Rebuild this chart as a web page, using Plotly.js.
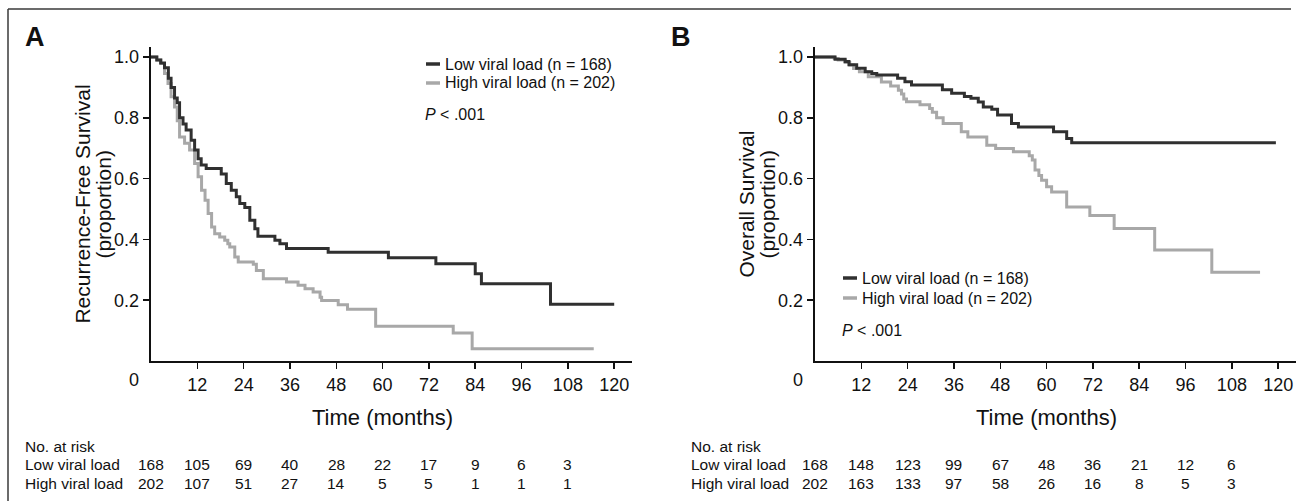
<!DOCTYPE html>
<html><head><meta charset="utf-8">
<script src="https://cdn.plot.ly/plotly-3.0.1.min.js"></script>
<style>html,body{margin:0;padding:0;background:#fff}#chart{width:1300px;height:501px}</style>
</head><body><div id="chart"></div>
<script>
// ---------- data ----------
const riskTimes = [0, 12, 24, 36, 48, 60, 72, 84, 96, 108];
const xTickVals = [12, 24, 36, 48, 60, 72, 84, 96, 108, 120];
const yTickVals = [0.2, 0.4, 0.6, 0.8, 1.0];
const yTickText = ['0.2', '0.4', '0.6', '0.8', '1.0'];
const groupLabels = ['Low viral load', 'High viral load'];
const legendLabels = ['Low viral load (n = 168)', 'High viral load (n = 202)'];

// Panel A: recurrence-free survival
const rfsLowTime = [0, 1.5, 2.5, 3.5, 4.5, 5.2, 6.1, 6.8, 7.4, 8.3, 9.1, 10.4, 11.3, 12.2, 13.0, 14.3, 18.2, 19.5, 20.8, 22.1, 23.0, 24.3, 25.6, 26.9, 27.7, 32.1, 33.4, 35.1, 45.9, 61.5, 73.8, 84.0, 85.6, 103.5, 120.0];
const rfsLowSurv = [1.0, 0.99, 0.98, 0.965, 0.93, 0.90, 0.865, 0.85, 0.80, 0.78, 0.76, 0.726, 0.694, 0.665, 0.645, 0.633, 0.615, 0.584, 0.562, 0.540, 0.518, 0.505, 0.463, 0.435, 0.41, 0.397, 0.386, 0.37, 0.358, 0.340, 0.320, 0.287, 0.254, 0.187, 0.187];
const rfsHighTime = [0, 1.5, 2.6, 3.5, 4.4, 5.2, 6.1, 6.8, 7.4, 8.7, 10.0, 11.3, 12.2, 13.1, 14.0, 14.8, 15.7, 16.5, 17.8, 19.1, 19.9, 20.4, 21.7, 22.6, 26.5, 27.3, 29.1, 35.1, 38.1, 39.9, 42.0, 43.8, 44.2, 48.5, 50.9, 58.2, 78.3, 83.2, 114.7];
const rfsHighSurv = [1.0, 0.99, 0.979, 0.946, 0.913, 0.869, 0.836, 0.79, 0.737, 0.716, 0.694, 0.650, 0.606, 0.562, 0.529, 0.485, 0.441, 0.419, 0.408, 0.397, 0.386, 0.375, 0.342, 0.326, 0.318, 0.298, 0.271, 0.260, 0.249, 0.238, 0.227, 0.210, 0.199, 0.185, 0.170, 0.114, 0.092, 0.040, 0.040];
const rfsRiskLow = [168, 105, 69, 40, 28, 22, 17, 9, 6, 3];
const rfsRiskHigh = [202, 107, 51, 27, 14, 5, 5, 1, 1, 1];

// Panel B: overall survival
const osLowTime = [0, 5.2, 7.8, 8.8, 10.8, 13.0, 14.7, 16.0, 21.4, 23.3, 25.0, 33.0, 35.4, 38.7, 40.4, 42.3, 43.6, 45.8, 47.3, 50.9, 52.7, 61.8, 65.2, 66.5, 119.4];
const osLowSurv = [1.0, 0.993, 0.985, 0.975, 0.963, 0.952, 0.946, 0.941, 0.930, 0.919, 0.908, 0.892, 0.881, 0.870, 0.864, 0.852, 0.836, 0.828, 0.809, 0.781, 0.770, 0.754, 0.732, 0.718, 0.718];
const osHighTime = [0, 5.0, 6.0, 7.8, 9.0, 10.0, 11.5, 13.8, 17.2, 19.6, 21.6, 22.4, 23.0, 23.7, 27.2, 29.7, 30.4, 31.5, 33.2, 37.9, 39.6, 44.5, 46.8, 51.4, 55.5, 56.3, 57.0, 58.0, 58.7, 60.0, 61.3, 65.2, 71.2, 77.5, 88.0, 102.8, 115.3];
const osHighSurv = [1.0, 0.995, 0.99, 0.982, 0.974, 0.962, 0.952, 0.935, 0.918, 0.905, 0.891, 0.878, 0.862, 0.853, 0.843, 0.831, 0.818, 0.800, 0.781, 0.754, 0.737, 0.710, 0.699, 0.688, 0.675, 0.661, 0.628, 0.610, 0.595, 0.573, 0.556, 0.507, 0.479, 0.436, 0.365, 0.292, 0.292];
const osRiskLow = [168, 148, 123, 99, 67, 48, 36, 21, 12, 6];
const osRiskHigh = [202, 163, 133, 97, 58, 26, 16, 8, 5, 3];

// ---------- style / layout ----------
const W = 1300, H = 501;
const FONT = 'Liberation Sans, Arial, Helvetica, sans-serif';
const LOW_COLOR = '#303030', HIGH_COLOR = '#a8a8a8';
const px = x => x / W, py = y => 1 - y / H;
const PX_PER_MONTH = 3.86;
const X_RANGE = [-0.1, 124.5];

const yDom = [py(361), py(46.7)];
const panels = [
  {xa: 'x', ya: 'y', x0: 151, letter: 'A', letterX: 35,
   title: ['Recurrence-Free Survival', '(proportion)'],
   lowT: rfsLowTime, lowS: rfsLowSurv, highT: rfsHighTime, highS: rfsHighSurv,
   riskLow: rfsRiskLow, riskHigh: rfsRiskHigh, tableX: 23,
   legX: 426, legY: [64, 83], pY: 114},
  {xa: 'x2', ya: 'y2', x0: 815, letter: 'B', letterX: 681,
   title: ['Overall Survival', '(proportion)'],
   lowT: osLowTime, lowS: osLowSurv, highT: osHighTime, highS: osHighSurv,
   riskLow: osRiskLow, riskHigh: osRiskHigh, tableX: 689,
   legX: 843, legY: [278, 298], pY: 330}
];

const traces = [];
const annotations = [];
const shapes = [];
const layout = {
  width: W, height: H, margin: {l: 0, r: 0, t: 0, b: 0},
  paper_bgcolor: '#fff', plot_bgcolor: '#fff', showlegend: false,
  font: {family: FONT, color: '#111'}
};

panels.forEach((p, i) => {
  const sfx = i === 0 ? '' : '2';
  const left = p.x0 + X_RANGE[0] * PX_PER_MONTH;
  const right = p.x0 + X_RANGE[1] * PX_PER_MONTH;
  layout['xaxis' + sfx] = {
    domain: [px(left), px(right)], range: X_RANGE, anchor: p.ya,
    showline: true, linewidth: 2, linecolor: '#111', mirror: false,
    ticks: 'outside', ticklen: 6, tickwidth: 1.5, tickcolor: '#111',
    tickvals: xTickVals, ticktext: xTickVals.map(String),
    tickfont: {size: 18, family: FONT, color: '#111'},
    showgrid: false, zeroline: false, fixedrange: true
  };
  layout['yaxis' + sfx] = {
    domain: yDom, range: [0, 1.034], anchor: p.xa,
    showline: true, linewidth: 2, linecolor: '#111',
    ticks: 'outside', ticklen: 6, tickwidth: 1.5, tickcolor: '#111',
    tickvals: yTickVals, ticktext: yTickText,
    tickfont: {size: 18, family: FONT, color: '#111'},
    showgrid: false, zeroline: false, fixedrange: true
  };

  traces.push({x: p.highT, y: p.highS, xaxis: p.xa, yaxis: p.ya, mode: 'lines',
    line: {shape: 'hv', color: HIGH_COLOR, width: 3}, name: legendLabels[1], hoverinfo: 'skip'});
  traces.push({x: p.lowT, y: p.lowS, xaxis: p.xa, yaxis: p.ya, mode: 'lines',
    line: {shape: 'hv', color: LOW_COLOR, width: 3}, name: legendLabels[0], hoverinfo: 'skip'});

  // panel letter
  annotations.push({xref: 'paper', yref: 'paper', x: px(p.letterX), y: py(37), text: '<b>' + p.letter + '</b>',
    showarrow: false, xanchor: 'center', yanchor: 'middle', font: {size: 27, family: FONT, color: '#111'}});
  // y title (two lines)
  annotations.push({xref: 'paper', yref: 'paper', x: px(left - 69), y: py(204), text: p.title[0], textangle: -90,
    showarrow: false, xanchor: 'center', yanchor: 'middle', font: {size: 21, family: FONT, color: '#111'}});
  annotations.push({xref: 'paper', yref: 'paper', x: px(left - 48), y: py(204), text: p.title[1], textangle: -90,
    showarrow: false, xanchor: 'center', yanchor: 'middle', font: {size: 21, family: FONT, color: '#111'}});
  // x title
  annotations.push({xref: p.xa, yref: 'paper', x: 60, y: py(417), text: 'Time (months)',
    showarrow: false, xanchor: 'center', yanchor: 'middle', font: {size: 22, family: FONT, color: '#111'}});
  // "0" origin label
  annotations.push({xref: p.xa, yref: p.ya, x: 0, y: 0, yshift: -19, xshift: -17, text: '0',
    showarrow: false, xanchor: 'center', yanchor: 'middle', font: {size: 18, family: FONT, color: '#111'}});

  // legend
  const legColors = [LOW_COLOR, HIGH_COLOR];
  legendLabels.forEach((lab, k) => {
    shapes.push({type: 'line', xref: 'paper', yref: 'paper', x0: px(p.legX), x1: px(p.legX + 14),
      y0: py(p.legY[k]), y1: py(p.legY[k]), line: {color: legColors[k], width: 3.5}});
    annotations.push({xref: 'paper', yref: 'paper', x: px(p.legX + 17), y: py(p.legY[k]), text: lab,
      showarrow: false, xanchor: 'left', yanchor: 'middle', font: {size: 16, family: FONT, color: '#111'}});
  });
  annotations.push({xref: 'paper', yref: 'paper', x: px(p.legX - 3), y: py(p.pY), text: '<i>P</i> < .001',
    showarrow: false, xanchor: 'left', yanchor: 'middle', font: {size: 16, family: FONT, color: '#111'}});

  // risk table
  const rowY = [446, 464, 483];
  annotations.push({xref: 'paper', yref: 'paper', x: px(p.tableX), y: py(rowY[0]), text: 'No. at risk',
    showarrow: false, xanchor: 'left', yanchor: 'middle', font: {size: 15.5, family: FONT, color: '#111'}});
  [p.riskLow, p.riskHigh].forEach((row, r) => {
    annotations.push({xref: 'paper', yref: 'paper', x: px(p.tableX), y: py(rowY[r + 1]), text: groupLabels[r],
      showarrow: false, xanchor: 'left', yanchor: 'middle', font: {size: 15.5, family: FONT, color: '#111'}});
    row.forEach((v, j) => {
      annotations.push({xref: p.xa, yref: 'paper', x: riskTimes[j], y: py(rowY[r + 1]), text: String(v),
        showarrow: false, xanchor: 'center', yanchor: 'middle', font: {size: 15.5, family: FONT, color: '#111'}});
    });
  });
});

// figure frame (top and left edges)
shapes.push({type: 'line', xref: 'paper', yref: 'paper', x0: px(8), x1: px(1291), y0: py(9), y1: py(9), line: {color: '#3a3a3a', width: 1.5}});
shapes.push({type: 'line', xref: 'paper', yref: 'paper', x0: px(8), x1: px(8), y0: py(9), y1: 0, line: {color: '#3a3a3a', width: 1.5}});

layout.annotations = annotations;
layout.shapes = shapes;

Plotly.newPlot('chart', traces, layout, {staticPlot: true, displayModeBar: false});
</script>
</body></html>
